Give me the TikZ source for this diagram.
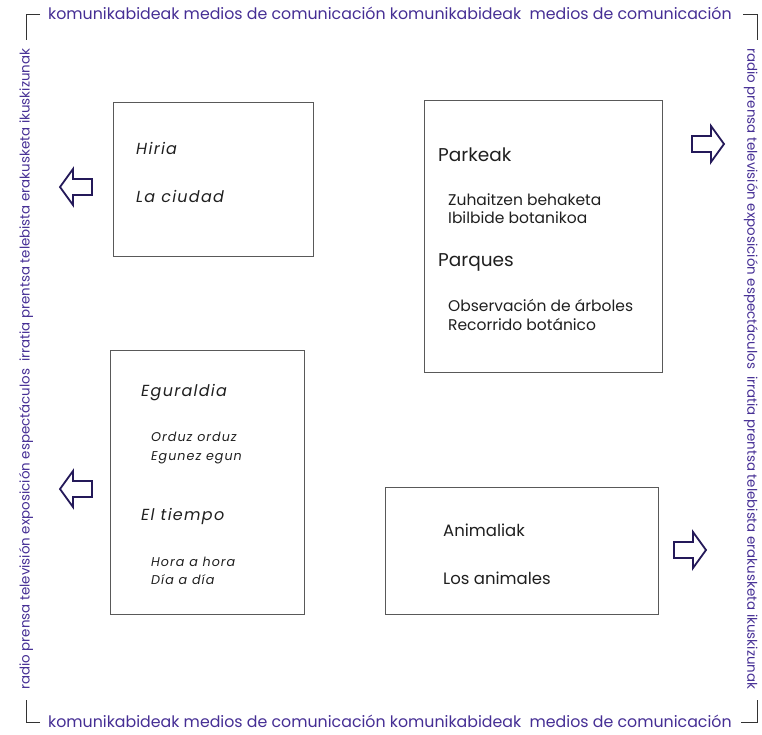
\documentclass[tikz,border=0pt]{standalone}
\usepackage{fontspec}
\setmainfont{Poppins}
\newfontfamily\spaced[LetterSpace=8]{Poppins}

\begin{document}
\begin{tikzpicture}[x=1pt,y=-1pt,
  box/.style={draw=cbox,line width=0.9pt,inner sep=0pt},
  rim/.style={text=crim,font=\fontsize{15.8}{17}\selectfont,inner sep=0pt},
  siderim/.style={rim,font=\fontsize{13.4}{15}\selectfont},
  title/.style={anchor=base west,text=ctxt,inner sep=0pt,font=\fontsize{18.5}{20}\selectfont},
  animtitle/.style={title,font=\fontsize{16.5}{18}\selectfont},
  item/.style={anchor=base west,text=ctxt,inner sep=0pt,font=\fontsize{15.5}{17}\selectfont},
  ititle/.style={title,font=\spaced\itshape\fontsize{16}{18}\selectfont},
  iitem/.style={item,font=\spaced\itshape\fontsize{12.7}{14}\selectfont},
  corner/.style={draw=black!80,line width=0.8pt},
  blockarrow/.pic={\draw[draw=carr,fill=white,line width=1.8pt,line join=miter]
    (-16,0) -- (-3,-18) -- (-3,-8) -- (16,-8) -- (16,8) -- (-3,8) -- (-3,18) -- cycle;}]
\definecolor{crim}{rgb}{0.27,0.18,0.58}
\definecolor{carr}{rgb}{0.14,0.10,0.35}
\definecolor{cbox}{rgb}{0.35,0.35,0.35}
\definecolor{ctxt}{rgb}{0.12,0.12,0.12}
\useasboundingbox (0,0) rectangle (762,734);
%
\node[box,minimum width=200pt,minimum height=154pt] (hiria) at (213,179) {};
\node[box,minimum width=238pt,minimum height=272pt] (parkeak) at (543,236) {};
\node[box,minimum width=194pt,minimum height=264pt] (eguraldia) at (207,482) {};
\node[box,minimum width=273pt,minimum height=127pt] (animaliak) at (521.5,550.5) {};
%
\node[ititle] (hiriaT) at (136,154) {Hiria};
\node[ititle] (ciudadT) at (136,202) {La ciudad};
%
\node[title] (parkeakT) at (438,161) {Parkeak};
\node[item] (zuhaitz) at (448,205) {Zuhaitzen behaketa};
\node[item] (ibilbide) at (448,223) {Ibilbide botanikoa};
\node[title] (parquesT) at (438,266) {Parques};
\node[item] (observ) at (448,311) {Observación de árboles};
\node[item] (recorr) at (448,330) {Recorrido botánico};
%
\node[ititle] (eguraldiaT) at (141,396) {Eguraldia};
\node[iitem] (orduz) at (151,441) {Orduz orduz};
\node[iitem] (egunez) at (151,460) {Egunez egun};
\node[ititle] (tiempoT) at (141,520) {El tiempo};
\node[iitem] (hora) at (151,566) {Hora a hora};
\node[iitem] (dia) at (151,584) {Día a día};
%
\node[animtitle] (animaliakT) at (443,536) {Animaliak};
\node[animtitle] (animalesT) at (443,584) {Los animales};
%
\pic at (76,187) {blockarrow};
\pic at (76,489) {blockarrow};
\pic[xscale=-1] at (708,144) {blockarrow};
\pic[xscale=-1] at (690,550) {blockarrow};
%
\node[rim,anchor=base west] (rimtop) at (48,19) {komunikabideak medios de comunicación komunikabideak\ \ medios de comunicación};
\node[rim,anchor=base west] (rimbot) at (48,727) {komunikabideak medios de comunicación komunikabideak\ \ medios de comunicación};
\node[siderim,anchor=west,rotate=90] (rimleft) at (26,690) {radio prensa televisión exposición espectáculos\ \ irratia prentsa telebista erakusketa ikuskizunak};
\node[siderim,anchor=west,rotate=-90] (rimright) at (751,48) {radio prensa televisión exposición espectáculos\ \ irratia prentsa telebista erakusketa ikuskizunak};
%
\coordinate (tl) at (26,14);
\coordinate (tr) at (757,14);
\coordinate (bl) at (26,722);
\coordinate (br) at (757,722);
\draw[corner] ([xshift=14pt]tl) -- (tl) -- ([yshift=-26pt]tl);
\draw[corner] ([xshift=-14pt]tr) -- (tr) -- ([yshift=-26pt]tr);
\draw[corner] ([xshift=14pt]bl) -- (bl) -- ([yshift=22pt]bl);
\draw[corner] ([xshift=-16pt]br) -- (br) -- ([yshift=22pt]br);
%
\end{tikzpicture}
\end{document}
